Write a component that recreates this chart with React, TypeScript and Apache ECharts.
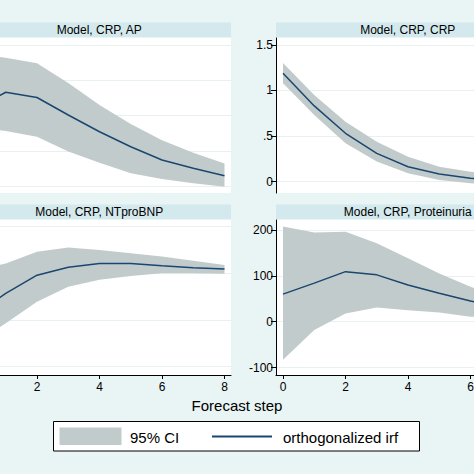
import React, { useEffect, useRef } from "react";
import * as echarts from "echarts";

const steps = [0, 1, 2, 3, 4, 5, 6, 7, 8];
const xTicks = [0, 2, 4, 6, 8];
const xLabelsLeft = [2, 4, 6, 8];
const xLabelsRight = [0, 2, 4, 6];

const panelTitles = ["Model, CRP, AP", "Model, CRP, CRP", "Model, CRP, NTproBNP", "Model, CRP, Proteinuria"];

const apIrf = [1.08, 1.33, 1.255, 1.007, 0.77, 0.557, 0.369, 0.251, 0.146];
const apUpper = [1.88, 1.82, 1.74, 1.46, 1.15, 0.88, 0.65, 0.47, 0.32];
const apLower = [0.83, 0.78, 0.7, 0.49, 0.33, 0.18, 0.1, 0.04, -0.01];
const apTicks = [0, 0.5, 1, 1.5, 2];

const crpIrf = [1.187, 0.83, 0.53, 0.31, 0.164, 0.084, 0.037, 0.02, 0.01];
const crpUpper = [1.3, 0.95, 0.657, 0.438, 0.274, 0.164, 0.11, 0.08, 0.06];
const crpLower = [1.078, 0.73, 0.42, 0.22, 0.092, 0.019, -0.018, -0.03, -0.04];
const crpTicks = [0, 0.5, 1, 1.5];

const bnpIrf = [1.1, 1.57, 1.96, 2.13, 2.21, 2.21, 2.16, 2.12, 2.09];
const bnpUpper = [2.05, 2.21, 2.46, 2.55, 2.5, 2.43, 2.36, 2.27, 2.18];
const bnpLower = [0.5, 0.93, 1.39, 1.71, 1.86, 1.94, 2.0, 2.0, 1.99];
const bnpTicks = [0, 1, 2, 3];

const protIrf = [60, 84, 109, 102, 80, 62, 45, 32, 22];
const protUpper = [207, 194, 196, 171, 138, 105, 76, 55, 40];
const protLower = [-83, -18, 18, 31, 25, 20, 11, 8, 4];
const protTicks = [-100, 0, 100, 200];

const legendLabels = ["95% CI", "orthogonalized irf"];
const xTitle = "Forecast step";

const BG = "#e9f4f4";
const BAR = "#d4e9ed";
const BAND = "#c2cbcb";
const LINE = "#1a476f";
const FONT = "Arial, 'Liberation Sans', sans-serif";
const OFF = 40; // inner canvas is shifted left by this amount

export default function App() {
  const ref = useRef<HTMLDivElement>(null);
  useEffect(() => {
    if (!ref.current) return;
    const chart = echarts.init(ref.current, null, { renderer: "svg" });

    const panels = [
      { title: panelTitles[0], irf: apIrf, up: apUpper, lo: apLower, ticks: apTicks, min: -0.099, max: 2.099, left: -32.5, top: 38, bottom: false, showY: false, xl: xLabelsLeft },
      { title: panelTitles[1], irf: crpIrf, up: crpUpper, lo: crpLower, ticks: crpTicks, min: -0.124, max: 1.574, left: 276, top: 38, bottom: false, showY: true, xl: xLabelsRight },
      { title: panelTitles[2], irf: bnpIrf, up: bnpUpper, lo: bnpLower, ticks: bnpTicks, min: -0.178, max: 3.141, left: -32.5, top: 220, bottom: true, showY: false, xl: xLabelsLeft },
      { title: panelTitles[3], irf: protIrf, up: protUpper, lo: protLower, ticks: protTicks, min: -116, max: 221.4, left: 276, top: 220, bottom: true, showY: true, xl: xLabelsRight },
    ];
    const W = 263.5;
    const H = 155;

    const fmt = (v: number) => {
      const s = String(v);
      return s.replace(/^0\./, ".").replace(/^-0\./, "-.");
    };

    const grid = panels.map((p) => ({
      left: p.left + OFF,
      top: p.top,
      width: W,
      height: H,
      show: true,
      backgroundColor: "#ffffff",
      borderWidth: 0,
      containLabel: false,
      outerBoundsMode: "none",
    }));

    const xAxis = panels.map((p, i) => ({
      type: "value",
      gridIndex: i,
      min: -0.224,
      max: 8.208,
      show: p.bottom,
      axisLine: { show: true, onZero: false, lineStyle: { color: "#000", width: 1 } },
      axisTick: { show: true, length: 4, customValues: xTicks, lineStyle: { color: "#000" } },
      axisLabel: { show: true, customValues: p.xl, fontSize: 12, color: "#000", fontFamily: FONT, margin: 6 },
      splitLine: { show: false },
    }));

    const yAxis = panels.map((p, i) => ({
      type: "value",
      gridIndex: i,
      min: p.min,
      max: p.max,
      axisLine: { show: p.showY, onZero: false, lineStyle: { color: "#000", width: 1 } },
      axisTick: { show: p.showY, length: 5, customValues: p.ticks, lineStyle: { color: "#000" } },
      axisLabel: { show: p.showY, customValues: p.ticks, fontSize: 12, color: "#000", fontFamily: FONT, margin: 3, formatter: fmt },
      splitLine: { show: true, lineStyle: { color: "#e8f0f0", width: 1 } },
    }));

    const series: any[] = [];
    panels.forEach((p, i) => {
      series.push({
        type: "custom",
        xAxisIndex: i,
        yAxisIndex: i,
        data: [[0, 0]],
        silent: true,
        renderItem: (_params: any, api: any) => {
          const upPts = p.up.map((u, k) => api.coord([steps[k], u]));
          const loPts = p.lo.map((l, k) => api.coord([steps[k], l])).reverse();
          return {
            type: "polygon",
            shape: { points: upPts.concat(loPts) },
            style: { fill: BAND, stroke: null },
          };
        },
      });
      series.push({
        type: "line",
        xAxisIndex: i,
        yAxisIndex: i,
        data: steps.map((s, k) => [s, p.irf[k]]),
        symbol: "none",
        lineStyle: { color: LINE, width: 1.5 },
        itemStyle: { color: LINE },
        z: 3,
      });
    });

    const graphic: any[] = [];
    panels.forEach((p) => {
      const barTop = p.top === 38 ? 22.5 : 204.5;
      graphic.push({
        type: "rect",
        shape: { x: p.left + OFF, y: barTop, width: W, height: 14.5 },
        style: { fill: BAR },
        silent: true,
      });
      graphic.push({
        type: "text",
        x: p.left + OFF + W / 2,
        y: barTop + 7.5,
        style: { text: p.title, fontSize: 12, fontFamily: FONT, fill: "#000", align: "center", verticalAlign: "middle" },
        silent: true,
      });
    });
    graphic.push({
      type: "text",
      x: 237 + OFF,
      y: 405,
      style: { text: xTitle, fontSize: 15, fontFamily: FONT, fill: "#000", align: "center", verticalAlign: "middle" },
    });
    graphic.push({
      type: "rect",
      shape: { x: 53.5 + OFF, y: 421.5, width: 366, height: 29.5 },
      style: { fill: "#ffffff", stroke: "#000", lineWidth: 1 },
    });
    graphic.push({
      type: "rect",
      shape: { x: 59.5 + OFF, y: 427.5, width: 62, height: 17.5 },
      style: { fill: BAND },
    });
    graphic.push({
      type: "text",
      x: 130 + OFF,
      y: 437,
      style: { text: legendLabels[0], fontSize: 15, fontFamily: FONT, fill: "#000", align: "left", verticalAlign: "middle" },
    });
    graphic.push({
      type: "line",
      shape: { x1: 212 + OFF, y1: 436.5, x2: 272 + OFF, y2: 436.5 },
      style: { stroke: LINE, lineWidth: 2 },
    });
    graphic.push({
      type: "text",
      x: 283 + OFF,
      y: 437,
      style: { text: legendLabels[1], fontSize: 15, fontFamily: FONT, fill: "#000", align: "left", verticalAlign: "middle" },
    });

    chart.setOption({
      animation: false,
      backgroundColor: BG,
      grid,
      xAxis,
      yAxis,
      series,
      graphic,
    });
    return () => chart.dispose();
  }, []);
  return (
    <div style={{ position: "absolute", left: 0, top: 0, width: 474, height: 474, overflow: "hidden", background: BG }}>
      <div ref={ref} style={{ position: "absolute", left: -OFF, top: 0, width: 600, height: 474 }} />
    </div>
  );
}
